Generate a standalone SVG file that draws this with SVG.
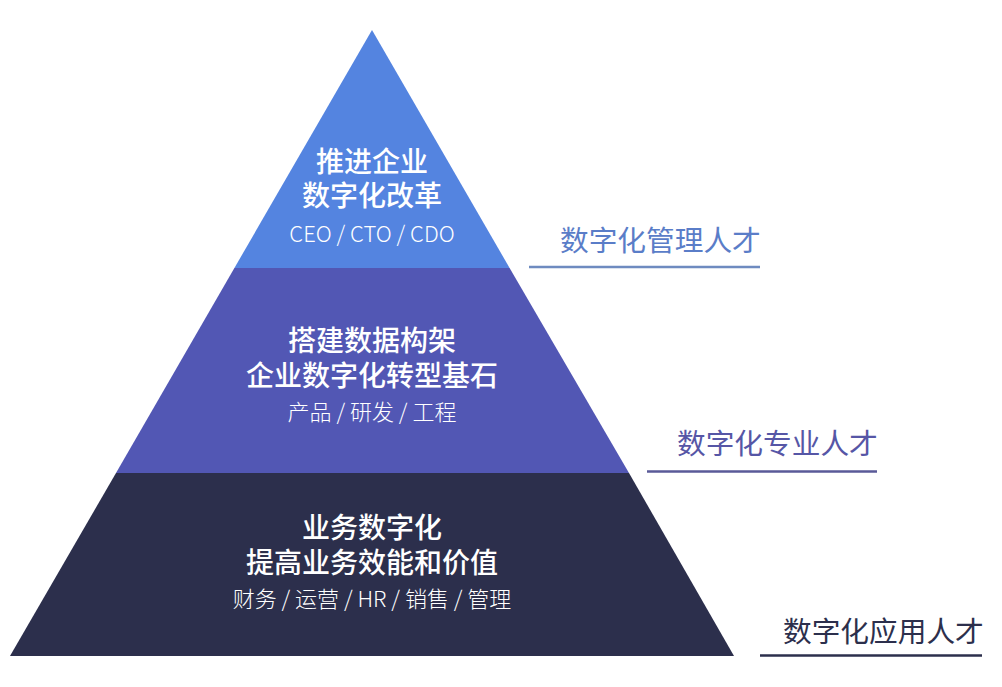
<svg xmlns="http://www.w3.org/2000/svg" width="1002" height="687" viewBox="0 0 1002 687">
<style>
.t{font-family:"Noto Sans CJK SC","Noto Sans",sans-serif;fill:#fff;text-anchor:middle}
.h{font-size:28px;font-weight:500}
.s{font-size:22px;font-weight:300}
.l{font-family:"Noto Sans CJK SC","Noto Sans",sans-serif;font-size:28.7px;font-weight:400}
</style>
<rect width="1002" height="687" fill="#fff"/>
<g id="tier-top">
<polygon points="372,30 234.4,268 509.6,268" fill="#5484E0"/>
<text class="t h" x="372" y="172">推进企业</text>
<text class="t h" x="372" y="206">数字化改革</text>
<text class="t s" x="372" y="242">CEO / CTO / CDO</text>
</g>
<g id="tier-middle">
<polygon points="234.4,268 509.6,268 629,473 116,473" fill="#5257B4"/>
<text class="t h" x="372" y="351">搭建数据构架</text>
<text class="t h" x="372" y="386">企业数字化转型基石</text>
<text class="t s" x="372" y="420">产品 / 研发 / 工程</text>
</g>
<g id="tier-bottom">
<polygon points="116,473 629,473 734,656 10,656" fill="#2C2F4C"/>
<text class="t h" x="372" y="538">业务数字化</text>
<text class="t h" x="372" y="573">提高业务效能和价值</text>
<text class="t s" x="372" y="607">财务 / 运营 / HR / 销售 / 管理</text>
</g>
<g id="label-management">
<text class="l" x="560" y="251" fill="#5A7DC8">数字化管理人才</text>
</g>
<g id="label-professional">
<text class="l" x="677" y="454" fill="#5656A6">数字化专业人才</text>
</g>
<g id="label-application">
<text class="l" x="783" y="642" fill="#2C2F4C">数字化应用人才</text>
</g>
<g id="connectors">
<line x1="529" y1="267" x2="760" y2="267" stroke="#6E8BC0" stroke-width="2.5"/>
<line x1="647" y1="471.5" x2="877" y2="471.5" stroke="#5A5A98" stroke-width="2.5"/>
<line x1="760" y1="655.5" x2="982" y2="655.5" stroke="#2C2F4C" stroke-width="2.5"/>
</g>
</svg>
